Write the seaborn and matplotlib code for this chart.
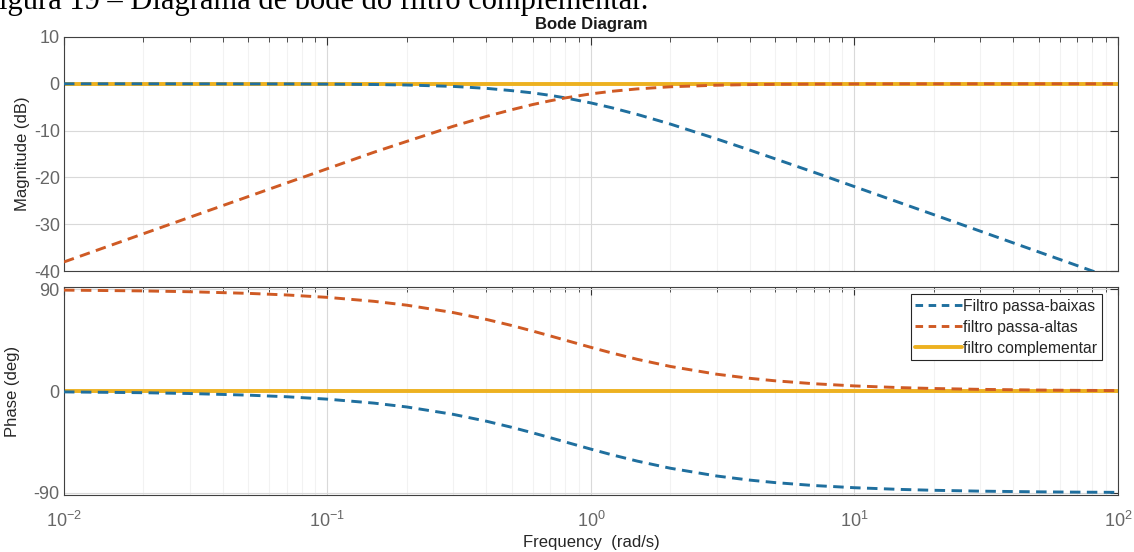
import numpy as np
import pandas as pd
import matplotlib
matplotlib.use("Agg")
import matplotlib.pyplot as plt
import seaborn as sns
from matplotlib.ticker import LogLocator, NullFormatter, FixedLocator

# ---- data ----
freq = [0.01, 0.02, 0.03, 0.05, 0.07, 0.1, 0.15, 0.2, 0.3, 0.4, 0.5, 0.6, 0.7, 0.8,
        1.0, 1.2, 1.5, 2.0, 3.0, 4.0, 5.0, 7.0, 10.0, 15.0, 20.0, 30.0, 50.0, 70.0, 100.0]
mag_lp = [0.0, 0.0, -0.01, -0.02, -0.03, -0.07, -0.15, -0.26, -0.56, -0.97, -1.46,
          -1.94, -2.47, -3.01, -4.09, -5.12, -6.55, -8.60, -11.78, -14.15, -16.03,
          -18.88, -21.97, -25.48, -27.96, -31.48, -35.92, -38.84, -41.94]
mag_hp = [-38.06, -32.04, -28.52, -24.10, -21.19, -18.13, -14.63, -12.30, -9.08, -6.99,
          -5.54, -4.44, -3.63, -3.01, -2.15, -1.60, -1.09, -0.64, -0.30, -0.17, -0.11,
          -0.06, -0.03, -0.01, -0.01, 0.0, 0.0, 0.0, 0.0]
phase_lp = [-0.72, -1.43, -2.15, -3.58, -5.00, -7.13, -10.62, -14.04, -20.56, -26.57,
            -32.01, -36.87, -41.19, -45.0, -51.34, -56.31, -61.93, -68.20, -75.07,
            -78.69, -80.91, -83.48, -85.43, -86.95, -87.71, -88.47, -89.08, -89.35, -89.54]
phase_hp = [89.28, 88.57, 87.85, 86.42, 85.00, 82.87, 79.38, 75.96, 69.44, 63.43,
            57.99, 53.13, 48.81, 45.0, 38.66, 33.69, 28.07, 21.80, 14.93, 11.31, 9.09,
            6.52, 4.57, 3.05, 2.29, 1.53, 0.92, 0.65, 0.46]
mag_comp = [0.0] * len(freq)
phase_comp = [0.0] * len(freq)

labels = ["Filtro passa-baixas", "filtro passa-altas", "filtro complementar"]
xticks = [0.01, 0.1, 1, 10, 100]
mag_ticks = [-40, -30, -20, -10, 0, 10]
phase_ticks = [-90, 0, 90]

sns.set_style("white")
plt.rcParams['font.family'] = ['Liberation Sans', 'DejaVu Sans']
plt.rcParams['axes.unicode_minus'] = False

c_lp = "#1f6f9e"
c_hp = "#cf5a24"
c_cp = "#EDB120"

fig = plt.figure(figsize=(11.34, 5.52), dpi=100)
ax1 = fig.add_axes([0.0564, 0.509, 0.9295, 0.424])
ax2 = fig.add_axes([0.0564, 0.103, 0.9295, 0.377])

df = pd.DataFrame({"freq": freq, "mag_lp": mag_lp, "mag_hp": mag_hp, "mag_comp": mag_comp,
                   "ph_lp": phase_lp, "ph_hp": phase_hp, "ph_comp": phase_comp})

dash = (3.6, 2.2)
for ax, cols in [(ax1, ["mag_lp", "mag_hp", "mag_comp"]), (ax2, ["ph_lp", "ph_hp", "ph_comp"])]:
    sns.lineplot(data=df, x="freq", y=cols[2], ax=ax, color=c_cp, lw=2.8, label=labels[2], zorder=2)
    sns.lineplot(data=df, x="freq", y=cols[0], ax=ax, color=c_lp, lw=2.1, label=labels[0], zorder=3)
    sns.lineplot(data=df, x="freq", y=cols[1], ax=ax, color=c_hp, lw=2.1, label=labels[1], zorder=3)
    for ln in ax.get_lines():
        if ln.get_color() != c_cp:
            ln.set_dashes(dash)
    ax.set_xscale("log")
    ax.set_xlim(0.01, 100)
    ax.xaxis.set_major_locator(FixedLocator(xticks))
    ax.xaxis.set_minor_locator(LogLocator(base=10, subs=np.arange(2, 10), numticks=20))
    ax.xaxis.set_minor_formatter(NullFormatter())
    ax.grid(True, which="major", color="#d9d9d9", lw=0.8)
    ax.grid(True, which="minor", axis="x", color="#f2f2f2", lw=0.8)
    ax.tick_params(which="both", direction="in", top=True, right=True, color="#333333",
                   labelcolor="#666666", labelsize=13)
    ax.tick_params(which="major", length=6, width=0.8, pad=6)
    ax.tick_params(which="minor", length=3.5, width=0.6)
    for s in ax.spines.values():
        s.set_color("#404040")
        s.set_linewidth(0.8)
    ax.set_axisbelow(True)

ax1.set_ylim(-40, 10)
ax1.yaxis.set_major_locator(FixedLocator(mag_ticks))
ax1.tick_params(axis="y", pad=3)
ax1.set_xticklabels([])
ax1.set_xlabel("")
ax1.set_ylabel("Magnitude (dB)", fontsize=12, color="#262626", labelpad=3)
ax1.get_legend().remove()
ax1.set_title("Bode Diagram", fontsize=12, fontweight="bold", color="#1a1a1a", pad=6)

ax2.set_ylim(-92, 92)
ax2.yaxis.set_major_locator(FixedLocator(phase_ticks))
ax2.tick_params(axis="y", pad=3)
ax2.tick_params(axis="x", pad=11)
ax2.set_ylabel("Phase (deg)", fontsize=12, color="#262626", labelpad=10)
ax2.set_xlabel("Frequency  (rad/s)", fontsize=12, color="#262626", labelpad=3)

handles, labs = ax2.get_legend_handles_labels()
order = [labs.index(l) for l in labels]
leg = ax2.legend([handles[i] for i in order], [labs[i] for i in order], loc="upper right",
                 bbox_to_anchor=(0.9848, 0.966), borderaxespad=0.0,
                 fontsize=11.3, frameon=True, fancybox=False, framealpha=1, edgecolor="#262626",
                 borderpad=0.3, handlelength=3.0, handletextpad=0.05, labelspacing=0.38)
leg.get_frame().set_linewidth(0.8)
for h in leg.get_lines():
    if h.get_color() != c_cp:
        h.set_dashes((2.6, 1.9))

fig.text(-0.016, 0.9835, "Figura 19 – Diagrama de bode do filtro complementar.",
         family=["Liberation Serif", "DejaVu Serif"], fontsize=22, color="black",
         ha="left", va="baseline")

fig.savefig("out.png", dpi=100)
